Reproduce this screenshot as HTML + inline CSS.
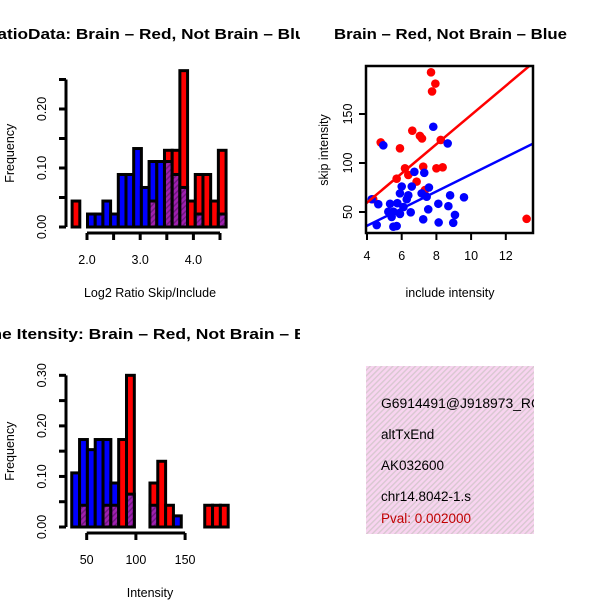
<!DOCTYPE html>
<html><head><meta charset="utf-8"><style>
html,body{margin:0;padding:0;background:#fff;}
svg{display:block;font-family:"Liberation Sans",sans-serif;}
</style></head><body>
<svg id="c" width="600" height="600" viewBox="0 0 600 600" xmlns="http://www.w3.org/2000/svg">
<defs>
<pattern id="hatchP" width="4" height="4" patternUnits="userSpaceOnUse" patternTransform="rotate(45)">
<rect width="4" height="4" fill="#a020b0"/><rect width="1.5" height="4" fill="#701880"/></pattern>
<pattern id="hatchPink" width="4" height="4" patternUnits="userSpaceOnUse" patternTransform="rotate(45)">
<rect width="4" height="4" fill="#f8d4f0"/><rect width="1.4" height="4" fill="#d8c8d0"/></pattern>
<clipPath id="cl1"><rect x="0" y="0" width="300" height="300"/></clipPath>
<clipPath id="cl2"><rect x="300" y="0" width="300" height="300"/></clipPath>
<clipPath id="cl3"><rect x="0" y="300" width="300" height="300"/></clipPath>
<clipPath id="clS"><rect x="366" y="66" width="167" height="167"/></clipPath>
<clipPath id="clT"><rect x="366" y="366" width="168" height="168"/></clipPath>
</defs>
<g id="p1" clip-path="url(#cl1)"></g>
<g id="p2" clip-path="url(#cl2)"></g>
<g id="p3" clip-path="url(#cl3)"></g>
<g id="p4">
<rect x="366" y="366" width="168" height="168" fill="url(#hatchPink)"/>
<g clip-path="url(#clT)" font-size="13.5">
<text x="381" y="408" textLength="160" lengthAdjust="spacingAndGlyphs">G6914491@J918973_RC</text>
<text x="381" y="439">altTxEnd</text>
<text x="381" y="470">AK032600</text>
<text x="381" y="501">chr14.8042-1.s</text>
<text x="381" y="523" fill="#c00000">Pval: 0.002000</text>
</g></g>
</svg>
<script>
// ---- Histogram 1 data (Log2 ratio) ----
const h1BinStart = 1.72;
const h1BinWidth = 0.1447;
const h1Red  = [0.044,0,0,0,0,0,0,0,0,0,0.044,0,0.13,0.13,0.265,0.044,0.089,0.089,0.044,0.13];
const h1Blue = [0,0,0.022,0.022,0.044,0.022,0.089,0.089,0.133,0.067,0.111,0.111,0.111,0.089,0.067,0,0.022,0,0,0.022];
const h1XTicks = [2.0,2.5,3.0,3.5,4.0,4.5];
const h1XLabels = ["2.0","","3.0","","4.0",""];
const h1YTicks = [0,0.05,0.10,0.15,0.20,0.25];
const h1YLabels = ["0.00","","0.10","","0.20",""];
// ---- Histogram 2 data (Intensity) ----
const h2BinStart = 34.8;
const h2BinWidth = 7.95;
const h2Red  = [0,0.043,0,0,0.043,0.043,0.173,0.30,0,0,0.087,0.13,0.043,0,0,0,0,0.043,0.043,0.043];
const h2Blue = [0.107,0.173,0.153,0.173,0.173,0.087,0,0.065,0,0,0.043,0,0,0.022,0,0,0,0,0,0];
const h2XTicks = [50,100,150];
const h2XLabels = ["50","100","150"];
const h2YTicks = [0,0.05,0.10,0.15,0.20,0.25,0.30];
const h2YLabels = ["0.00","","0.10","","0.20","","0.30"];
// ---- Scatter data ----
const redX = [7.69,7.94,7.75,4.79,5.90,6.61,7.05,7.17,8.25,6.19,5.71,7.24,8.0,8.36,6.38,6.86,13.2,4.36,7.34];
const redY = [192.5,181,173,121,115,133,127.6,125,123.5,94.6,84,96.3,94.6,95.6,87.8,81,43,63,72.4];
const blueX = [7.82,8.65,4.94,6.73,7.3,6.0,6.58,7.57,5.9,6.38,7.15,7.44,8.79,9.59,4.27,4.65,5.33,5.75,6.29,5.23,5.52,5.9,6.52,7.53,8.11,8.69,9.07,8.97,8.13,7.24,4.56,5.52,5.71,5.42,6.1];
const blueY = [137,120,118,91,90,76,76,75,69,67,69,65.6,67,65,63,58,58.4,59,63,50.3,50.3,48,49.7,52.7,58.4,56,47,39,39.3,42.5,36.7,35,35.7,45,55];
const lineIntercept = [0, 0.9];
const lineSlope = [14.9, 8.76];
const lineColor = ["#ff0000","#0000ff"];
const sXTicks = [4,6,8,10,12];
const sYTicks = [50,100,150];

const NS="http://www.w3.org/2000/svg";
function mk(parent,tag,attrs){const e=document.createElementNS(NS,tag);for(const k in attrs)e.setAttribute(k,attrs[k]);parent.appendChild(e);return e;}

function histogram(g,o){
  const sx=v=>o.x0px+(v-o.x0)*o.pxPerX;
  const sy=v=>o.basePx-v*o.pxPerY;
  for(let i=0;i<o.red.length;i++){
    const r=o.red[i],b=o.blue[i];
    const x1=sx(o.binStart+i*o.binWidth), x2=sx(o.binStart+(i+1)*o.binWidth);
    const hi=Math.max(r,b), lo=Math.min(r,b);
    if(hi<=0) continue;
    const col=r>=b?"#ff0000":"#0000ff";
    const bar=mk(g,'rect',{x:x1,y:sy(hi),width:x2-x1,height:sy(0)-sy(hi),fill:col,stroke:'#000','stroke-width':3});
    
    
    if(lo>0){
      const ov=mk(g,'rect',{x:x1,y:sy(lo),width:x2-x1,height:sy(0)-sy(lo),fill:'url(#hatchP)',stroke:'#000','stroke-width':3});
      
      
    }
  }
  const ya=mk(g,'g',{});
  
  
  mk(ya,'line',{x1:o.yAxisX,x2:o.yAxisX,y1:sy(o.yTicks[0]),y2:sy(o.yTicks[o.yTicks.length-1]),stroke:'#000','stroke-width':3});
  o.yTicks.forEach((t,i)=>{
    mk(ya,'line',{x1:o.yAxisX-7,x2:o.yAxisX,y1:sy(t),y2:sy(t),stroke:'#000','stroke-width':3});
    if(o.yLabels[i]){const tx=mk(ya,'text',{x:0,y:0,'font-size':12.5,'text-anchor':'middle',transform:`translate(${o.yAxisX-20},${sy(t)}) rotate(-90)`});tx.textContent=o.yLabels[i];
      
      }
  });
  const xa=mk(g,'g',{});
  
  
  mk(xa,'line',{x1:sx(o.xTicks[0]),x2:sx(o.xTicks[o.xTicks.length-1]),y1:o.xAxisY,y2:o.xAxisY,stroke:'#000','stroke-width':3});
  o.xTicks.forEach((t,i)=>{
    mk(xa,'line',{x1:sx(t),x2:sx(t),y1:o.xAxisY,y2:o.xAxisY+7,stroke:'#000','stroke-width':3});
    if(o.xLabels[i]){const tx=mk(xa,'text',{x:sx(t),y:o.xAxisY+31,'font-size':12.5,'text-anchor':'middle'});tx.textContent=o.xLabels[i];
      
      }
  });
  const xt=mk(g,'text',{x:150,y:o.xAxisY+64,'font-size':12.5,'text-anchor':'middle'});xt.textContent=o.xTitle;
  
  
  const yt=mk(g,'text',{x:0,y:0,'font-size':12.5,'text-anchor':'middle',transform:`translate(14,${(sy(0)+sy(o.yTicks[o.yTicks.length-1]))/2}) rotate(-90)`});yt.textContent='Frequency';
  
  
  const tt=mk(g,'text',{x:150-o.titleLen/2,y:o.titleY,'font-size':15,'font-weight':'bold',textLength:o.titleLen,lengthAdjust:'spacingAndGlyphs'});tt.textContent=o.title;
  
  
}

histogram(document.getElementById('p1'),{red:h1Red,blue:h1Blue,binStart:h1BinStart,binWidth:h1BinWidth,
  x0:2.0,x0px:87,pxPerX:53.2,basePx:227,pxPerY:590,yAxisX:66,xAxisY:233,
  xTicks:h1XTicks,xLabels:h1XLabels,yTicks:h1YTicks,yLabels:h1YLabels,
  xTitle:'Log2 Ratio Skip/Include',title:'RatioData: Brain \u2013 Red, Not Brain \u2013 Blue',titleY:39,titleLen:330});
histogram(document.getElementById('p3'),{red:h2Red,blue:h2Blue,binStart:h2BinStart,binWidth:h2BinWidth,
  x0:50,x0px:86.7,pxPerX:0.984,basePx:527,pxPerY:505.6,yAxisX:66,xAxisY:533,
  xTicks:h2XTicks,xLabels:h2XLabels,yTicks:h2YTicks,yLabels:h2YLabels,
  xTitle:'Intensity',title:'Bone Itensity: Brain \u2013 Red, Not Brain \u2013 Blue',titleY:339,titleLen:364});

(function(){
  const g=document.getElementById('p2');
  const sx=v=>367+(v-4)*17.35, sy=v=>212-(v-50)*0.98;
  const pg=mk(g,'g',{'clip-path':'url(#clS)'});
  redX.forEach((x,i)=>{const c=mk(pg,'circle',{cx:sx(x),cy:sy(redY[i]),r:4.3,fill:'#ff0000'});
    
    });
  blueX.forEach((x,i)=>{const c=mk(pg,'circle',{cx:sx(x),cy:sy(blueY[i]),r:4.3,fill:'#0000ff'});
    
    });
  lineSlope.forEach((b,i)=>{const a=lineIntercept[i];const xa=3,xb=15;
    const l=mk(pg,'line',{x1:sx(xa),y1:sy(a+b*xa),x2:sx(xb),y2:sy(a+b*xb),stroke:lineColor[i],'stroke-width':2.5});
    
    });
  const box=mk(g,'rect',{x:366,y:66,width:167,height:167,fill:'none',stroke:'#000','stroke-width':2.5});
  
  
  sXTicks.forEach(t=>{mk(g,'line',{x1:sx(t),x2:sx(t),y1:233,y2:240,stroke:'#000','stroke-width':2});
    const tx=mk(g,'text',{x:sx(t),y:260,'font-size':12.5,'text-anchor':'middle'});tx.textContent=t;
    
    });
  sYTicks.forEach(t=>{mk(g,'line',{x1:359,x2:366,y1:sy(t),y2:sy(t),stroke:'#000','stroke-width':2});
    const tx=mk(g,'text',{x:0,y:0,'font-size':12.5,'text-anchor':'middle',transform:`translate(352,${sy(t)}) rotate(-90)`});tx.textContent=t;
    
    });
  const xt=mk(g,'text',{x:450,y:297,'font-size':12.5,'text-anchor':'middle'});xt.textContent='include intensity';
  
  
  const yt=mk(g,'text',{x:0,y:0,'font-size':12.5,'text-anchor':'middle',transform:'translate(328,150) rotate(-90)'});yt.textContent='skip intensity';
  
  
  const tt=mk(g,'text',{x:334,y:39,'font-size':15,'font-weight':'bold',textLength:233,lengthAdjust:'spacingAndGlyphs'});tt.textContent='Brain \u2013 Red, Not Brain \u2013 Blue';
  
  
})();
</script>
</body></html>
